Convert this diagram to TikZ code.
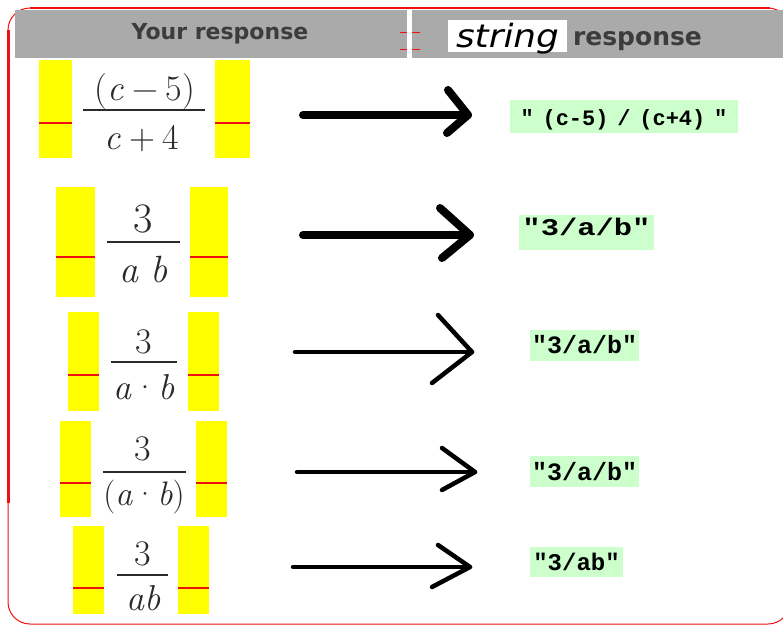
\documentclass[tikz,border=0pt]{standalone}
\usepackage[no-math]{fontspec}
\newfontfamily\hdfont{DejaVu Sans}
\newfontfamily\monofont{Liberation Mono}
\definecolor{hdgray}{HTML}{AAAAAA}
\definecolor{hdtext}{HTML}{3C3C3C}
\definecolor{yel}{HTML}{FFFF00}
\definecolor{redl}{HTML}{EE1111}
\definecolor{grn}{HTML}{CCFFCC}
\definecolor{ink}{HTML}{2A2A2A}
\newcommand{\bsp}{\hspace{0.22em}}
\tikzset{
  ybox/.style={fill=yel, draw=none, inner sep=0pt},
  redline/.style={draw=redl, line width=1.6pt},
  numtext/.style={text=ink, inner sep=0pt, anchor=base, font=\fontsize{36}{40}\selectfont},
  fracbar/.style={draw=ink, line width=2.2pt},
  gbox/.style={fill=grn, draw=none, inner sep=0pt},
  gtext/.style={inner sep=0pt, anchor=base, text=black},
  arrbold/.style={draw=black, line width=8pt, line cap=round, line join=round},
  arrthin/.style={draw=black, line width=4.5pt, line cap=round, line join=round},
  hdtxt/.style={inner sep=0pt, anchor=base, text=hdtext},
}
\begin{document}
\begin{tikzpicture}[x=1pt,y=-1pt]
\useasboundingbox (0,0) rectangle (783,625);
\fill[white] (0,0) rectangle (783,625);
% outer border
\draw[redl, line width=1pt, rounded corners=22pt] (8,8) rectangle (790,624);
\draw[redl, line width=2.5pt] (30,8) -- (770,8);
\draw[redl, line width=3pt] (8,30) -- (8,503);
% header
\fill[hdgray] (15,10) rectangle (407,58);
\fill[hdgray] (412,10) rectangle (783,58);
\draw[redl, line width=1pt] (400,32) -- (420,32);
\draw[redl, line width=1pt] (400,49) -- (420,49);
\fill[white] (407,10) rectangle (411.5,58);
\node[hdtxt, font=\hdfont\bfseries\fontsize{22}{24}\selectfont] (h1) at (220,39.5) {Your response};
\node[fill=white, inner sep=0pt, minimum width=119pt, minimum height=32pt] (sbox) at (507.5,36) {};
\node[inner sep=0pt, anchor=base, text=black, font=\hdfont\itshape\fontsize{32}{34}\selectfont] (h2a) at (507.5,47) {\scalebox{1.12}[1]{string}};
\node[hdtxt, font=\hdfont\bfseries\fontsize{25}{27}\selectfont] (h2b) at (637.5,45) {response};

% ---------- row 1
\node[ybox, minimum width=33pt, minimum height=98pt] (l1) at (55.5,109) {};
\node[ybox, minimum width=35pt, minimum height=98pt] (r1) at (232.5,109) {};
\draw[redline] (l1.west |- 0,123) -- (l1.east |- 0,123);
\draw[redline] (r1.west |- 0,123) -- (r1.east |- 0,123);
\node[numtext] (n1) at (145,100) {(\textit{c}\bsp−\bsp5)};
\draw[fracbar] (83,110) -- (205,110);
\node[numtext] (d1) at (142,149) {\textit{c}\bsp+\bsp4};
\coordinate (a1s) at (303,115);
\coordinate (a1e) at (468,115);
\draw[arrbold] (a1s) -- (a1e);
\draw[arrbold] (448,90) -- (a1e) -- (447,133);
\node[gbox, minimum width=228pt, minimum height=33pt] (g1) at (624,116.5) {};
\node[gtext, font=\monofont\bfseries\fontsize{22}{24}\selectfont] (t1) at (624,125) {"\hspace{0.4em}(c-5)\hspace{0.4em}/\hspace{0.4em}(c+4)\hspace{0.4em}"};

% ---------- row 2
\node[ybox, minimum width=39pt, minimum height=110pt] (l2) at (75.5,241.5) {};
\node[ybox, minimum width=38pt, minimum height=110pt] (r2) at (209,241.5) {};
\draw[redline] (l2.west |- 0,257) -- (l2.east |- 0,257);
\draw[redline] (r2.west |- 0,257) -- (r2.east |- 0,257);
\node[numtext, font=\fontsize{42}{44}\selectfont] (n2) at (143,232) {3};
\draw[fracbar] (107,242) -- (180,242);
\node[numtext, font=\fontsize{38}{40}\selectfont] (d2) at (143.5,282) {\textit{a}\hspace{0.3em}\textit{b}};
\coordinate (a2s) at (303,235);
\coordinate (a2e) at (470,235);
\draw[arrbold] (a2s) -- (a2e);
\draw[arrbold] (440,208) -- (a2e) -- (442,258);
\node[gbox, minimum width=135pt, minimum height=35pt] (g2) at (586.5,232.5) {};
\node[gtext, font=\monofont\bfseries\fontsize{24}{26}\selectfont] (t2) at (586.5,235) {\scalebox{1.27}[1]{"3/a/b"}};

% ---------- row 3
\node[ybox, minimum width=31pt, minimum height=99pt] (l3) at (83.5,361.5) {};
\node[ybox, minimum width=31pt, minimum height=99pt] (r3) at (203.5,361.5) {};
\draw[redline] (l3.west |- 0,375) -- (l3.east |- 0,375);
\draw[redline] (r3.west |- 0,375) -- (r3.east |- 0,375);
\node[numtext] (n3) at (143.5,353) {3};
\draw[fracbar] (111,362) -- (177,362);
\node[numtext] (d3) at (144,399) {\textit{a}·\textit{b}};
\coordinate (a3s) at (295,352);
\coordinate (a3e) at (472,352);
\draw[arrthin] (a3s) -- (a3e);
\draw[arrthin] (438,315) -- (a3e) -- (432,383);
\node[gbox, minimum width=109pt, minimum height=31pt] (g3) at (584.5,345.5) {};
\node[gtext, font=\monofont\bfseries\fontsize{25}{27}\selectfont] (t3) at (584.5,353) {"3/a/b"};

% ---------- row 4
\node[ybox, minimum width=31pt, minimum height=96pt] (l4) at (75.5,469) {};
\node[ybox, minimum width=31pt, minimum height=96pt] (r4) at (211.5,469) {};
\draw[redline] (l4.west |- 0,483) -- (l4.east |- 0,483);
\draw[redline] (r4.west |- 0,483) -- (r4.east |- 0,483);
\node[numtext] (n4) at (143,460) {3};
\draw[fracbar] (103,472) -- (186,472);
\node[numtext, font=\fontsize{34}{36}\selectfont] (d4) at (144,505) {(\textit{a}·\textit{b})};
\coordinate (a4s) at (297,472);
\coordinate (a4e) at (475,472);
\draw[arrthin] (a4s) -- (a4e);
\draw[arrthin] (442,448) -- (a4e) -- (442,490);
\node[gbox, minimum width=109pt, minimum height=31pt] (g4) at (584.5,471.5) {};
\node[gtext, font=\monofont\bfseries\fontsize{25}{27}\selectfont] (t4) at (584.5,480) {"3/a/b"};

% ---------- row 5
\node[ybox, minimum width=31pt, minimum height=88pt] (l5) at (88.5,570) {};
\node[ybox, minimum width=31pt, minimum height=88pt] (r5) at (193.5,570) {};
\draw[redline] (l5.west |- 0,588) -- (l5.east |- 0,588);
\draw[redline] (r5.west |- 0,588) -- (r5.east |- 0,588);
\node[numtext] (n5) at (143,565) {3};
\draw[fracbar] (117,575) -- (168,575);
\node[numtext] (d5) at (143.5,610) {\textit{ab}};
\coordinate (a5s) at (293,567);
\coordinate (a5e) at (470,567);
\draw[arrthin] (a5s) -- (a5e);
\draw[arrthin] (438,545) -- (a5e) -- (432,587);
\node[gbox, minimum width=93pt, minimum height=30pt] (g5) at (576.5,562) {};
\node[gtext, font=\monofont\bfseries\fontsize{24}{26}\selectfont] (t5) at (576.5,570) {"3/ab"};
\end{tikzpicture}
\end{document}
